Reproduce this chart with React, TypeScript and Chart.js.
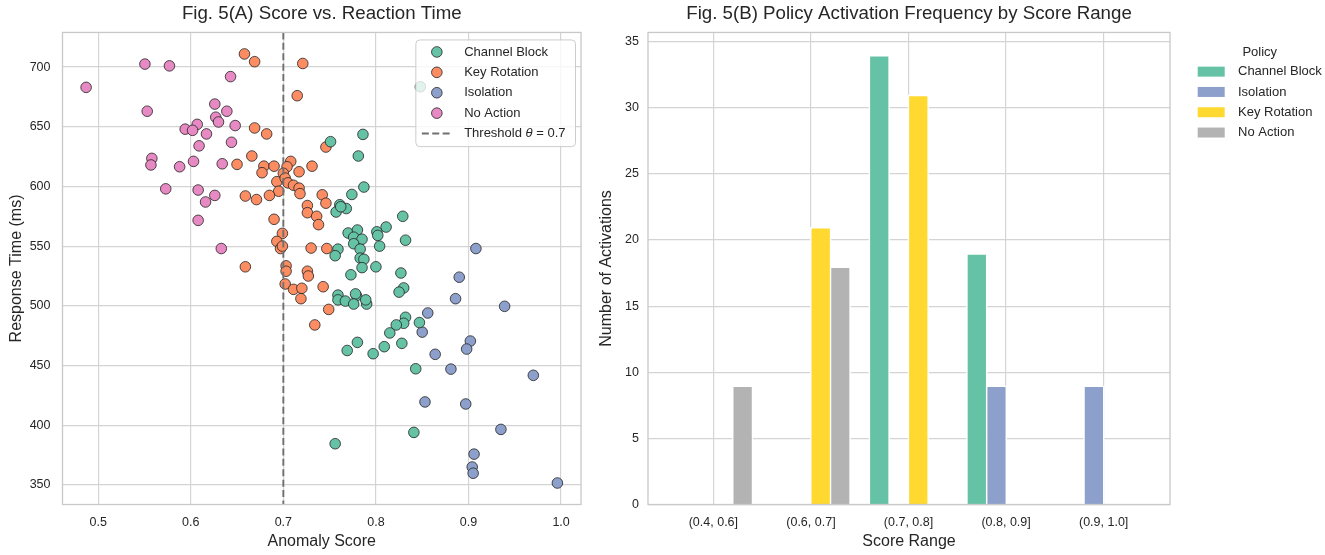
import React, { useEffect, useRef } from "react";
import { Chart, registerables } from "chart.js";

Chart.register(...registerables);

const FONT = "'Liberation Sans', Arial, Helvetica, sans-serif";
const TEXT = "#262626";
const GRID = "#d4d4d4";
const SPINE = "#c8c8c8";

// ---------- Panel A: anomaly score vs response time ----------
const CHANNEL_BLOCK: [number, number][] = [
  [0.848, 683.5], [0.786, 643.6], [0.751, 637.5], [0.781, 625.5], [0.787, 599.5],
  [0.774, 593.3], [0.761, 584.7], [0.768, 581.5], [0.757, 578.6], [0.762, 583],
  [0.829, 575], [0.811, 566], [0.801, 562], [0.802, 559], [0.832, 555],
  [0.804, 550], [0.770, 561], [0.780, 563.5], [0.776, 557.5], [0.785, 555.8],
  [0.776, 552], [0.783, 547.5], [0.759, 547.5], [0.756, 542], [0.783, 540],
  [0.787, 539], [0.785, 532], [0.800, 532.7], [0.773, 526], [0.827, 527.5],
  [0.830, 515], [0.825, 511.5], [0.759, 509], [0.759, 505], [0.767, 504],
  [0.779, 508.5], [0.778, 510], [0.776, 501.5], [0.790, 501.5], [0.789, 505],
  [0.832, 490.4], [0.830, 485.4], [0.822, 484], [0.847, 486], [0.815, 477.3],
  [0.809, 465.8], [0.828, 468.6], [0.780, 469.4], [0.769, 462.6], [0.797, 459.9],
  [0.843, 447.3], [0.841, 394], [0.756, 384.5],
];

const KEY_ROTATION: [number, number][] = [
  [0.658, 711], [0.669, 704.5], [0.721, 703], [0.715, 676], [0.669, 649],
  [0.682, 644], [0.746, 633], [0.666, 625.5], [0.650, 618.5], [0.679, 617],
  [0.690, 617], [0.677, 611.5], [0.708, 621], [0.704, 616.5], [0.700, 611],
  [0.717, 612.3], [0.731, 617], [0.693, 604], [0.702, 607], [0.705, 603],
  [0.695, 596], [0.711, 601], [0.717, 598.6], [0.718, 594], [0.659, 592],
  [0.671, 589], [0.685, 592.5], [0.742, 593], [0.746, 586], [0.726, 584],
  [0.726, 578], [0.736, 575], [0.738, 568], [0.690, 572.5], [0.699, 560.7],
  [0.693, 554], [0.697, 548], [0.699, 550], [0.730, 548.4], [0.747, 548],
  [0.659, 532.7], [0.703, 533.5], [0.703, 529], [0.726, 529], [0.727, 525],
  [0.702, 518.3], [0.711, 513.8], [0.720, 514.7], [0.719, 506], [0.743, 516],
  [0.749, 497], [0.734, 484],
];

const ISOLATION: [number, number][] = [
  [0.908, 548], [0.890, 524], [0.886, 506], [0.939, 499.6], [0.856, 494],
  [0.850, 478], [0.902, 470.5], [0.898, 463.8], [0.864, 459.4], [0.881, 447],
  [0.970, 441.8], [0.853, 419.5], [0.897, 417.8], [0.935, 396.5], [0.906, 375.8],
  [0.904, 365], [0.905, 359.8], [0.996, 351.6],
];

const NO_ACTION: [number, number][] = [
  [0.487, 683], [0.5505, 702.5], [0.577, 701], [0.643, 692], [0.553, 663],
  [0.626, 669], [0.639, 663], [0.627, 658], [0.630, 654], [0.648, 651],
  [0.607, 652], [0.594, 648], [0.602, 647], [0.617, 644], [0.609, 634],
  [0.644, 637], [0.558, 623.5], [0.557, 618], [0.588, 616.5], [0.603, 621],
  [0.634, 619], [0.573, 598], [0.608, 597], [0.626, 592.5], [0.616, 587],
  [0.608, 571.6], [0.633, 548],
];

const THRESHOLD = 0.7;
const SCATTER_LABELS = ["Channel Block", "Key Rotation", "Isolation", "No Action"];
const SCATTER_COLORS = ["#66c2a5", "#fc8d62", "#8da0cb", "#e78ac3"];
const SCORE_MIN = 0.4615;
const SCORE_MAX = 1.0215;
const TIME_MIN = 333.6;
const TIME_MAX = 729;

// ---------- Panel B: activation frequency by score range ----------
const SCORE_RANGES = ["(0.4, 0.6]", "(0.6, 0.7]", "(0.7, 0.8]", "(0.8, 0.9]", "(0.9, 1.0]"];
const BAR_CHANNEL_BLOCK = [0, 0, 34, 19, 0];
const BAR_ISOLATION = [0, 0, 0, 9, 9];
const BAR_KEY_ROTATION = [0, 21, 31, 0, 0];
const BAR_NO_ACTION = [9, 18, 0, 0, 0];
const BAR_LABELS = ["Channel Block", "Isolation", "Key Rotation", "No Action"];
const BAR_COLORS = ["#66c2a5", "#8da0cb", "#ffd92f", "#b3b3b3"];
const COUNT_MAX = 35.7;

const font = (size: number, style = "normal") => ({ family: FONT, size, style, weight: "normal" as const });

const framePlugin = {
  id: "frame",
  afterDatasetsDraw(chart: any) {
    const { ctx, chartArea: a } = chart;
    ctx.save();
    ctx.strokeStyle = SPINE;
    ctx.lineWidth = 1.3;
    ctx.strokeRect(a.left, a.top, a.right - a.left, a.bottom - a.top);
    ctx.restore();
  },
};

const thresholdPlugin = {
  id: "threshold",
  afterDatasetsDraw(chart: any) {
    const { ctx, chartArea: a, scales } = chart;
    const x = scales.x.getPixelForValue(THRESHOLD);
    ctx.save();
    ctx.strokeStyle = "#707070";
    ctx.lineWidth = 1.9;
    ctx.setLineDash([7, 3.4]);
    ctx.beginPath();
    ctx.moveTo(x, a.top);
    ctx.lineTo(x, a.bottom);
    ctx.stroke();
    ctx.restore();
  },
};

const scatterLegendPlugin = {
  id: "scatterLegend",
  afterDraw(chart: any) {
    const { ctx, chartArea: a } = chart;
    const ds = chart.data.datasets;
    ctx.save();
    const normal = `13px ${FONT}`;
    const italic = `italic 13px ${FONT}`;
    ctx.font = normal;
    const pre = "Threshold ";
    const post = ` = ${THRESHOLD}`;
    let thW = ctx.measureText(pre).width + ctx.measureText(post).width;
    ctx.font = italic;
    const thetaW = ctx.measureText("θ").width;
    thW += thetaW;
    ctx.font = normal;
    let maxW = thW;
    ds.forEach((d: any) => (maxW = Math.max(maxW, ctx.measureText(d.label).width)));
    const rowH = 20.4;
    const boxW = 48.3 + maxW + 10;
    const boxH = 106.7;
    const right = a.right - 5.5;
    const left = right - boxW;
    const top = a.top + 7.5;
    ctx.beginPath();
    (ctx as any).roundRect(left, top, boxW, boxH, 4);
    ctx.fillStyle = "rgba(255,255,255,0.8)";
    ctx.fill();
    ctx.strokeStyle = "#cccccc";
    ctx.lineWidth = 1;
    ctx.stroke();
    ctx.textBaseline = "middle";
    ctx.textAlign = "left";
    ds.forEach((d: any, i: number) => {
      const y = top + 12 + i * rowH;
      ctx.beginPath();
      ctx.arc(left + 21, y, 5.3, 0, Math.PI * 2);
      ctx.fillStyle = d.backgroundColor;
      ctx.fill();
      ctx.strokeStyle = "#222";
      ctx.lineWidth = 0.8;
      ctx.stroke();
      ctx.fillStyle = TEXT;
      ctx.fillText(d.label, left + 48.3, y);
    });
    const y = top + 12 + ds.length * rowH;
    ctx.strokeStyle = "#707070";
    ctx.lineWidth = 1.9;
    ctx.setLineDash([7, 3.4]);
    ctx.beginPath();
    ctx.moveTo(left + 6, y);
    ctx.lineTo(left + 36, y);
    ctx.stroke();
    ctx.setLineDash([]);
    ctx.fillStyle = TEXT;
    let tx = left + 48.3;
    ctx.fillText(pre, tx, y);
    tx += ctx.measureText(pre).width;
    ctx.font = italic;
    ctx.fillText("θ", tx, y);
    tx += thetaW;
    ctx.font = normal;
    ctx.fillText(post, tx, y);
    ctx.restore();
  },
};

const barLegendPlugin = {
  id: "barLegend",
  afterDraw(chart: any) {
    const { ctx, chartArea: a } = chart;
    const ds = chart.data.datasets;
    ctx.save();
    ctx.font = `13px ${FONT}`;
    let maxW = 0;
    ds.forEach((d: any) => (maxW = Math.max(maxW, ctx.measureText(d.label).width)));
    const x0 = a.right + 27.7;
    const blockW = 40.3 + maxW;
    ctx.textBaseline = "middle";
    ctx.fillStyle = TEXT;
    ctx.textAlign = "center";
    ctx.fillText("Policy", x0 + blockW / 2, a.top + 19.5);
    ctx.textAlign = "left";
    ds.forEach((d: any, i: number) => {
      const y = a.top + 39.2 + i * 20.3;
      ctx.fillStyle = d.backgroundColor;
      ctx.fillRect(x0, y - 5, 27, 10);
      ctx.fillStyle = TEXT;
      ctx.fillText(d.label, x0 + 40.3, y);
    });
    ctx.restore();
  },
};

function axisTitle(text: string, pad: any) {
  return { display: true, text, font: font(16), color: TEXT, padding: pad };
}

export default function App() {
  const leftRef = useRef<HTMLCanvasElement>(null);
  const rightRef = useRef<HTMLCanvasElement>(null);

  useEffect(() => {
    const series = [CHANNEL_BLOCK, KEY_ROTATION, ISOLATION, NO_ACTION];
    const scatter = new Chart(leftRef.current!, {
      type: "scatter",
      data: {
        datasets: series.map((pts, i) => ({
          label: SCATTER_LABELS[i],
          data: pts.map(([x, y]) => ({ x, y })),
          backgroundColor: SCATTER_COLORS[i],
          borderColor: "#222222",
          borderWidth: 0.8,
          pointRadius: 5.3,
        })),
      },
      options: {
        responsive: false,
        animation: false,
        events: [],
        layout: { padding: { left: 0, right: 9, top: 0, bottom: 0 } },
        plugins: {
          legend: { display: false },
          tooltip: { enabled: false },
          title: {
            display: true,
            text: "Fig. 5(A) Score vs. Reaction Time",
            font: font(18.7),
            color: TEXT,
            padding: { top: 3, bottom: 7 },
            fullSize: false,
          },
        },
        scales: {
          x: {
            type: "linear",
            min: SCORE_MIN,
            max: SCORE_MAX,
            afterFit: (s: any) => { s.height = 50.5; },
            ticks: {
              stepSize: 0.1,
              includeBounds: false,
              callback: (v: any) => Number(v).toFixed(1),
              font: font(12.5),
              color: TEXT,
              padding: 11,
            },
            grid: { color: GRID, lineWidth: 1.2, drawTicks: false },
            border: { display: false },
            title: axisTitle("Anomaly Score", { top: 0, bottom: 4 }),
          },
          y: {
            type: "linear",
            min: TIME_MIN,
            max: TIME_MAX,
            afterFit: (s: any) => { s.width = 62.5; },
            ticks: {
              stepSize: 50,
              includeBounds: false,
              font: font(12.5),
              color: TEXT,
              padding: 12,
            },
            grid: { color: GRID, lineWidth: 1.2, drawTicks: false },
            border: { display: false },
            title: axisTitle("Response Time (ms)", { top: 7, bottom: 0 }),
          },
        },
      } as any,
      plugins: [thresholdPlugin, framePlugin, scatterLegendPlugin],
    });

    const barSeries = [BAR_CHANNEL_BLOCK, BAR_ISOLATION, BAR_KEY_ROTATION, BAR_NO_ACTION];
    const bars = new Chart(rightRef.current!, {
      type: "bar",
      data: {
        datasets: barSeries.map((vals, i) => ({
          label: BAR_LABELS[i],
          data: vals.map((v, j) => ({ x: j, y: v })),
          backgroundColor: BAR_COLORS[i],
          borderColor: "#ffffff",
          borderWidth: (c: any) => (c.raw && c.raw.y > 0 ? 1.6 : 0),
          borderSkipped: "start",
          categoryPercentage: 0.8,
          barPercentage: 1.1,
        })),
      },
      options: {
        responsive: false,
        animation: false,
        events: [],
        layout: { padding: { left: 0, right: 155, top: 0, bottom: 0 } },
        plugins: {
          legend: { display: false },
          tooltip: { enabled: false },
          title: {
            display: true,
            text: "Fig. 5(B) Policy Activation Frequency by Score Range",
            font: font(18.7),
            color: TEXT,
            padding: { top: 3, bottom: 7 },
            fullSize: false,
          },
        },
        scales: {
          x: {
            type: "linear",
            min: -0.67,
            max: 4.68,
            offset: false,
            afterFit: (s: any) => { s.height = 50.5; },
            ticks: {
              stepSize: 1,
              includeBounds: false,
              autoSkip: false,
              callback: (v: any) => SCORE_RANGES[v] ?? "",
              font: font(12.5),
              color: TEXT,
              padding: 11,
            },
            grid: { color: GRID, lineWidth: 1.2, drawTicks: false, offset: false },
            border: { display: false },
            title: axisTitle("Score Range", { top: 0, bottom: 4 }),
          },
          y: {
            type: "linear",
            min: 0,
            max: COUNT_MAX,
            afterFit: (s: any) => { s.width = 58; },
            ticks: {
              stepSize: 5,
              includeBounds: false,
              font: font(12.5),
              color: TEXT,
              padding: 9,
            },
            grid: { color: GRID, lineWidth: 1.2, drawTicks: false },
            border: { display: false },
            title: axisTitle("Number of Activations", { top: 7, bottom: 0 }),
          },
        },
      } as any,
      plugins: [framePlugin, barLegendPlugin],
    });

    return () => {
      scatter.destroy();
      bars.destroy();
    };
  }, []);

  return (
    <div style={{ position: "absolute", left: 0, top: 0, width: 1325, height: 555, background: "#fff" }}>
      <canvas ref={leftRef} width={590} height={555} style={{ position: "absolute", left: 0, top: 0, width: 590, height: 555 }} />
      <canvas ref={rightRef} width={735} height={555} style={{ position: "absolute", left: 590, top: 0, width: 735, height: 555 }} />
    </div>
  );
}
